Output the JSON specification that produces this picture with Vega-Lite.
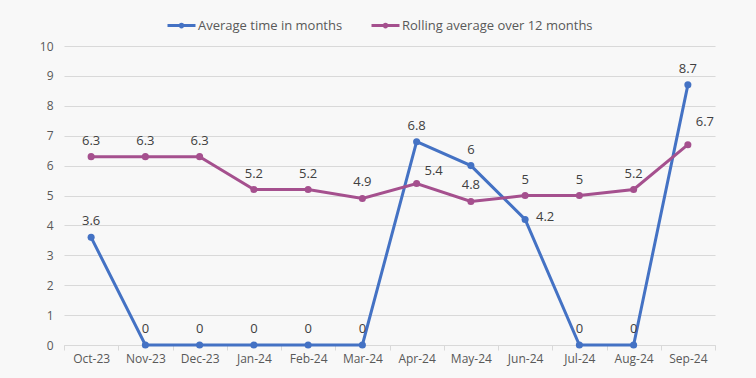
{
  "$schema": "https://vega.github.io/schema/vega-lite/v6.json",
  "width": 651,
  "height": 299,
  "autosize": {"type": "none"},
  "padding": {"left": 64, "top": 46, "right": 41, "bottom": 33},
  "background": "#f8f8f8",
  "config": {
    "view": {"stroke": null},
    "font": "Open Sans",
    "axis": {"labelFont": "Open Sans", "labelColor": "#595959", "labelFontSize": 12},
    "legend": {"labelFont": "Open Sans", "labelColor": "#595959", "labelFontSize": 13}
  },
  "data": {
    "values": [
      {"month": "Oct-23", "series": "Average time in months", "value": 3.6},
      {"month": "Nov-23", "series": "Average time in months", "value": 0},
      {"month": "Dec-23", "series": "Average time in months", "value": 0},
      {"month": "Jan-24", "series": "Average time in months", "value": 0},
      {"month": "Feb-24", "series": "Average time in months", "value": 0},
      {"month": "Mar-24", "series": "Average time in months", "value": 0},
      {"month": "Apr-24", "series": "Average time in months", "value": 6.8},
      {"month": "May-24", "series": "Average time in months", "value": 6},
      {"month": "Jun-24", "series": "Average time in months", "value": 4.2},
      {"month": "Jul-24", "series": "Average time in months", "value": 0},
      {"month": "Aug-24", "series": "Average time in months", "value": 0},
      {"month": "Sep-24", "series": "Average time in months", "value": 8.7},
      {"month": "Oct-23", "series": "Rolling average over 12 months", "value": 6.3},
      {"month": "Nov-23", "series": "Rolling average over 12 months", "value": 6.3},
      {"month": "Dec-23", "series": "Rolling average over 12 months", "value": 6.3},
      {"month": "Jan-24", "series": "Rolling average over 12 months", "value": 5.2},
      {"month": "Feb-24", "series": "Rolling average over 12 months", "value": 5.2},
      {"month": "Mar-24", "series": "Rolling average over 12 months", "value": 4.9},
      {"month": "Apr-24", "series": "Rolling average over 12 months", "value": 5.4},
      {"month": "May-24", "series": "Rolling average over 12 months", "value": 4.8},
      {"month": "Jun-24", "series": "Rolling average over 12 months", "value": 5},
      {"month": "Jul-24", "series": "Rolling average over 12 months", "value": 5},
      {"month": "Aug-24", "series": "Rolling average over 12 months", "value": 5.2},
      {"month": "Sep-24", "series": "Rolling average over 12 months", "value": 6.7}
    ]
  },
  "encoding": {
    "x": {
      "field": "month", "type": "nominal", "sort": null,
      "scale": {"paddingInner": 0, "paddingOuter": 0},
      "axis": {"title": null, "labelAngle": 0, "domainColor": "#d9d9d9", "tickColor": "#d9d9d9", "tickBand": "extent", "tickSize": 5, "labelPadding": 3}
    },
    "y": {
      "field": "value", "type": "quantitative",
      "scale": {"domain": [0, 10]},
      "axis": {"title": null, "values": [0,1,2,3,4,5,6,7,8,9,10], "labelOverlap": false, "domain": false, "ticks": false, "gridColor": "#d9d9d9", "labelPadding": 11}
    }
  },
  "layer": [
    {
      "mark": {"type": "line", "strokeWidth": 3, "point": {"filled": true, "size": 50, "opacity": 1}},
      "encoding": {
        "color": {
          "field": "series", "type": "nominal",
          "scale": {"range": ["#4472c4", "#a5508e"]},
          "legend": {
            "title": null, "orient": "none", "direction": "horizontal",
            "legendX": 102, "legendY": -36, "labelLimit": 0,
            "symbolType": "M-1,0H1M-0.1,0A0.1,0.1 0 1,0 0.1,0A0.1,0.1 0 1,0 -0.1,0",
            "symbolSize": 784, "symbolStrokeWidth": 3, "columnPadding": 22, "labelOffset": 1
          }
        }
      }
    },
    {
      "transform": [{"filter": "!((datum.month === 'Jun-24' && datum.series === 'Average time in months') || (datum.series === 'Rolling average over 12 months' && (datum.month === 'Apr-24' || datum.month === 'Sep-24')))"}],
      "mark": {"type": "text", "dy": -16, "fontSize": 13, "color": "#404040"},
      "encoding": {"text": {"field": "value", "type": "quantitative", "format": ".1~f"}}
    },
    {
      "transform": [{"filter": "datum.month === 'Jun-24' && datum.series === 'Average time in months'"}],
      "mark": {"type": "text", "dx": 20, "dy": -2, "fontSize": 13, "color": "#404040"},
      "encoding": {"text": {"field": "value", "type": "quantitative", "format": ".1~f"}}
    },
    {
      "transform": [{"filter": "datum.month === 'Apr-24' && datum.series === 'Rolling average over 12 months'"}],
      "mark": {"type": "text", "dx": 17, "dy": -13, "fontSize": 13, "color": "#404040"},
      "encoding": {"text": {"field": "value", "type": "quantitative", "format": ".1~f"}}
    },
    {
      "transform": [{"filter": "datum.month === 'Sep-24' && datum.series === 'Rolling average over 12 months'"}],
      "mark": {"type": "text", "dx": 17, "dy": -23, "fontSize": 13, "color": "#404040"},
      "encoding": {"text": {"field": "value", "type": "quantitative", "format": ".1~f"}}
    }
  ]
}
